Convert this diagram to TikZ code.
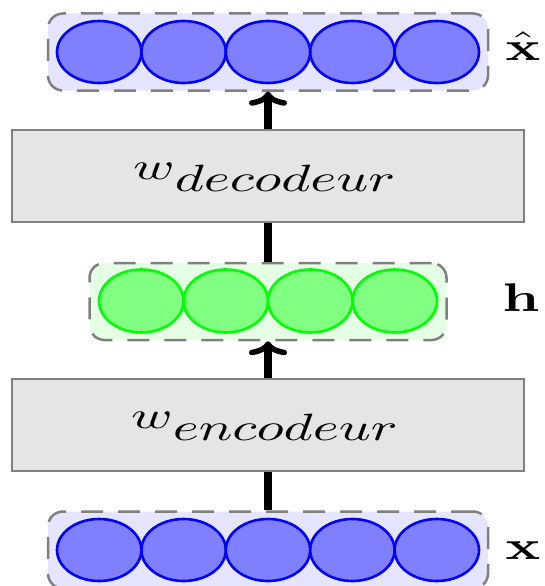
\documentclass[tikz,border=0pt]{standalone}
\usepackage{graphicx}
\usetikzlibrary{shapes.geometric,arrows.meta}

% stretched glyphs for the labels and the weight names
\newcommand{\widetext}[1]{\scalebox{5.6}[3.8]{#1}}
\newcommand{\widelabel}[1]{\scalebox{5.8}[4.0]{#1}}

\tikzset{
  layer/.style={draw=black!50, line width=2.5pt, dash pattern=on 22pt off 15pt,
    rounded corners=15pt, minimum width=440pt, minimum height=77pt, inner sep=0pt},
  bluelayer/.style={layer, fill=blue!10},
  greenlayer/.style={layer, fill=green!10, minimum width=357pt},
  unit/.style={ellipse, line width=2.6pt, minimum width=84.4pt,
    minimum height=62pt, inner sep=0pt},
  blueunit/.style={unit, draw=blue, fill=blue!50},
  greenunit/.style={unit, draw=green, fill=green!50, minimum width=84.5pt, minimum height=63pt},
  weights/.style={draw=black!50, fill=black!10, line width=2pt,
    minimum width=512pt, minimum height=92pt, inner sep=0pt},
  wname/.style={anchor=base west, inner sep=0pt},
  vlabel/.style={anchor=base, inner sep=0pt},
  link/.style={line width=8pt},
  uparrow/.style={link, -{To[length=14pt,width=38pt,line width=5.5pt,round]}}
}

\begin{document}
\begin{tikzpicture}[x=1pt,y=-1pt]
  \useasboundingbox (0,0) rectangle (544,586);

  % output layer
  \node[bluelayer] (outl) at (268,52) {};
  \foreach \i in {0,...,4}
    \node[blueunit] (out\i) at ({99.2+84.4*\i},52) {};
  \node[vlabel] (outlab) at (523,60) {\widelabel{$\hat{\mathbf{x}}$}};

  % decoder weights
  \node[weights] (dec) at (268,176) {};
  \node[wname] (decname) at (133,179) {\widetext{$w$\raisebox{-3.2pt}{$decodeur$}}};

  % hidden layer
  \node[greenlayer] (hid) at (268,301.5) {};
  \foreach \i in {0,...,3}
    \node[greenunit] (hid\i) at ({141.25+84.5*\i},301) {};
  \node[vlabel] (hidlab) at (521,311) {\widelabel{$\mathbf{h}$}};

  % encoder weights
  \node[weights] (enc) at (268,424.5) {};
  \node[wname] (encname) at (131,428) {\widetext{$w$\raisebox{-3.2pt}{$encodeur$}}};

  % input layer
  \node[bluelayer] (inl) at (268,550) {};
  \foreach \i in {0,...,4}
    \node[blueunit] (in\i) at ({99.2+84.4*\i},550) {};
  \node[vlabel] (inlab) at (523,559) {\widelabel{$\mathbf{x}$}};

  % connections between the stages
  \draw[link] (inl.north) -- (enc.south);
  \draw[uparrow] (enc.north) -- (hid.south);
  \draw[link] (hid.north) -- (dec.south);
  \draw[uparrow] (dec.north) -- (outl.south);
\end{tikzpicture}
\end{document}
